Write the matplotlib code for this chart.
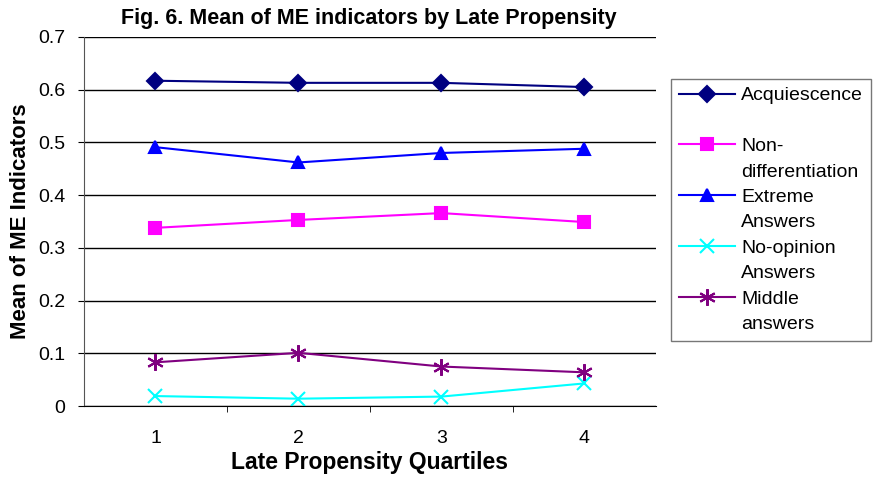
import matplotlib
matplotlib.use("Agg")
import matplotlib.pyplot as plt
from matplotlib.lines import Line2D

quartiles = ["1", "2", "3", "4"]
acquiescence = [0.617, 0.613, 0.613, 0.605]
non_diff = [0.338, 0.353, 0.366, 0.349]
extreme = [0.491, 0.462, 0.480, 0.488]
no_opinion = [0.019, 0.014, 0.018, 0.043]
middle = [0.083, 0.101, 0.075, 0.064]

# (first line, second line, values, colour, marker, marker size)
SERIES = [
    ("Acquiescence", "", acquiescence, "#000080", "D", 8),
    ("Non-", "differentiation", non_diff, "#FF00FF", "s", 8),
    ("Extreme", "Answers", extreme, "#0000FF", "^", 9),
    ("No-opinion", "Answers", no_opinion, "#00FFFF", "x", 10),
    ("Middle", "answers", middle, "#800080", (6, 2, 0), 12),
]

plt.rcParams["font.family"] = ["Liberation Sans", "DejaVu Sans"]

fig = plt.figure(figsize=(8.84, 4.8), dpi=100)
ax = fig.add_axes([0.095, 0.154, 0.647, 0.769])

x = list(range(len(quartiles)))
handles, labels = [], []
for line1, line2, vals, color, marker, ms in SERIES:
    h, = ax.plot(x, vals, color=color, marker=marker, markersize=ms, linewidth=1.5,
                 markeredgewidth=1.5)
    # legend handle sits on the first text line, the second line gets an empty handle
    handles += [h, Line2D([], [], color="none")]
    labels += [line1, line2]

ax.set_xlim(-0.5, len(quartiles) - 0.5)
ax.set_ylim(0, 0.7)
ax.set_yticks([i / 10 for i in range(8)])
ax.set_yticklabels(["0"] + [f"{i / 10:.1f}" for i in range(1, 8)], fontsize=14)
ax.set_xticks(x)
ax.set_xticklabels(quartiles, fontsize=14)
ax.set_xticks([i + 0.5 for i in range(len(quartiles) - 1)], minor=True)
ax.tick_params(axis="x", which="major", length=0, pad=17)
ax.tick_params(axis="x", which="minor", length=4.5, direction="out")
ax.tick_params(axis="y", length=4.5, pad=9)
ax.grid(axis="y", color="black", linewidth=1)
ax.set_axisbelow(True)
ax.spines["top"].set_visible(False)
ax.spines["right"].set_visible(False)
ax.spines["left"].set_color("#555555")

ax.set_xlabel("Late Propensity Quartiles", fontsize=16.5, fontweight="bold", labelpad=3)
ax.set_ylabel("Mean of ME Indicators", fontsize=16, fontweight="bold", labelpad=5)
fig.text(0.417, 0.962, "Fig. 6. Mean of ME indicators by Late Propensity",
         ha="center", va="center", fontsize=15.5, fontweight="bold")

leg = fig.legend(handles, labels, loc="upper left",
                 bbox_to_anchor=(671 / 884, 1 - 79 / 480),
                 fontsize=14, frameon=True, fancybox=False, edgecolor="#555555",
                 handlelength=2.9, handletextpad=0.3, labelspacing=0.4,
                 borderpad=0.4, borderaxespad=0)
leg.get_frame().set_linewidth(1)

fig.savefig("out.png", dpi=100)
